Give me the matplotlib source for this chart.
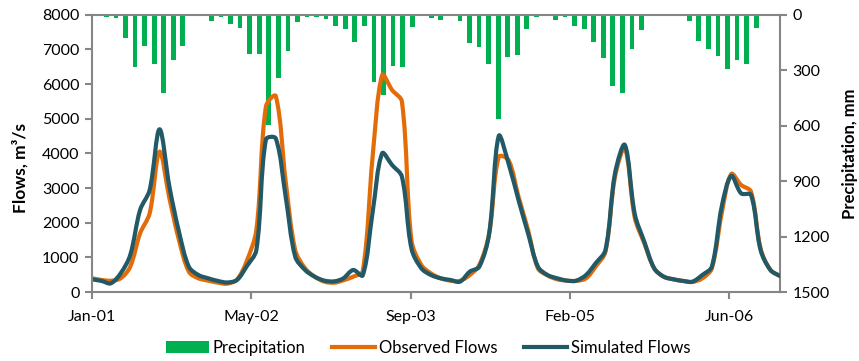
import numpy as np
import pandas as pd
import matplotlib
matplotlib.use("Agg")
import matplotlib.pyplot as plt
import matplotlib.dates as mdates
from matplotlib.patches import Patch, PathPatch
from matplotlib.path import Path
from matplotlib.lines import Line2D

plt.rcParams['font.family'] = ['Lato', 'DejaVu Sans']

# monthly series, Jan 2001 - Dec 2006
months = pd.date_range('2001-01-01', periods=72, freq='MS')

precip = [4, 13, 16, 128, 285, 170, 269, 421, 244, 168, 7, 2,
          33, 11, 51, 72, 211, 211, 596, 342, 197, 38, 11, 11,
          22, 61, 76, 145, 61, 365, 437, 278, 282, 65, 0, 20,
          29, 9, 36, 155, 177, 264, 562, 231, 217, 78, 11, 0,
          29, 11, 60, 76, 150, 235, 387, 421, 184, 83, 0, 0,
          0, 2, 33, 141, 183, 222, 293, 246, 266, 70, 7, 9]

observed = [395, 346, 326, 395, 730, 1693, 2270, 4048, 2703, 1500, 586, 395,
            326, 269, 240, 358, 875, 1789, 5350, 5650, 3200, 1212, 683, 442,
            298, 269, 337, 442, 600, 3900, 6260, 5828, 5491, 1490, 779, 538,
            394, 327, 320, 490, 779, 1692, 3900, 3800, 2750, 1789, 683, 480,
            365, 327, 320, 394, 731, 1164, 3327, 4145, 2150, 1404, 683, 442,
            365, 317, 290, 394, 683, 2270, 3404, 3087, 2894, 1260, 635, 462]

simulated = [366, 317, 250, 539, 1067, 2366, 2943, 4694, 3039, 1740, 730, 490,
             395, 317, 275, 346, 731, 1212, 4400, 4430, 2750, 1019, 635, 442,
             327, 308, 394, 635, 480, 2300, 4001, 3664, 3327, 1250, 683, 490,
             394, 346, 298, 587, 731, 1692, 4500, 3700, 2654, 1692, 731, 490,
             394, 327, 327, 490, 827, 1212, 3424, 4241, 2250, 1452, 683, 442,
             365, 317, 298, 490, 731, 2462, 3347, 2846, 2798, 1212, 635, 462]

GREEN = '#00B050'
ORANGE = '#E36C09'
TEAL = '#215967'
GREY = '#868686'


# smoothed line like the spreadsheet one: cubic bezier through every point,
# control arms worked out in screen space and scaled by segment length
def smooth_path(ax, x, y):
    p = ax.transData.transform(np.column_stack([x, y]))
    n = len(p)
    d = np.hypot(*np.diff(p, axis=0).T)
    verts = [p[0]]
    codes = [Path.MOVETO]
    for i in range(n - 1):
        a = p[max(i - 1, 0)]
        b = p[min(i + 2, n - 1)]
        dl = d[i - 1] if i > 0 else d[i]
        dr = d[i + 1] if i < n - 2 else d[i]
        c1 = p[i] + (p[i + 1] - a) * d[i] / (dl + d[i]) / 3
        c2 = p[i + 1] - (b - p[i]) * d[i] / (d[i] + dr) / 3
        verts += [c1, c2, p[i + 1]]
        codes += [Path.CURVE4] * 3
    verts = ax.transData.inverted().transform(np.array(verts))
    return Path(verts, codes)


fig = plt.figure(figsize=(8.59, 3.61), dpi=100)
rect = [92/859, 1 - 292/361, (780 - 92)/859, (292 - 14.7)/361]

# precipitation bars, hanging from the top (inverted secondary axis)
axp = fig.add_axes(rect)
axp.bar(np.arange(len(precip)), precip, width=0.5, color=GREEN)
axp.set_xlim(-0.5, len(precip) - 0.5)
axp.set_ylim(1500, 0)
axp.set_yticks([0, 300, 600, 900, 1200, 1500])
axp.yaxis.tick_right()
axp.yaxis.set_label_position('right')
axp.set_ylabel('Precipitation, mm', fontsize=12, fontweight='bold', labelpad=9)
axp.set_xticks([])
for s in ['left', 'bottom', 'top']:
    axp.spines[s].set_visible(False)
axp.spines['right'].set_color(GREY)
axp.spines['right'].set_linewidth(1.5)
axp.tick_params(axis='y', colors=GREY, labelcolor='black', labelsize=11.5,
                length=5, width=1.5, pad=4)

# flows on top
ax = fig.add_axes(rect)
ax.patch.set_visible(False)
ax.set_ylim(0, 8000)
ax.set_yticks(range(0, 8001, 1000))
ax.set_xlim(months[0], months[-1])
xnum = mdates.date2num(months)
for series, col in [(observed, ORANGE), (simulated, TEAL)]:
    ax.add_patch(PathPatch(smooth_path(ax, xnum, series), facecolor='none',
                           edgecolor=col, lw=3, joinstyle='round', capstyle='round'))
ticks = [months[0] + pd.Timedelta(days=500 * k) for k in range(5)]
ax.set_xticks(ticks)
ax.xaxis.set_major_formatter(mdates.DateFormatter('%b-%y'))
ax.set_ylabel('Flows, m³/s', fontsize=12.5, fontweight='bold')
ax.yaxis.set_label_coords(-0.093, 0.447)
ax.spines['right'].set_visible(False)
for s in ['left', 'bottom', 'top']:
    ax.spines[s].set_color(GREY)
    ax.spines[s].set_linewidth(1.5)
ax.tick_params(axis='both', colors=GREY, labelcolor='black', labelsize=11.5,
               length=5, width=1.5)
ax.tick_params(axis='x', pad=8)
ax.tick_params(axis='y', pad=4)

handles = [Patch(facecolor=GREEN),
           Line2D([], [], color=ORANGE, lw=3),
           Line2D([], [], color=TEAL, lw=3)]
fig.legend(handles, ['Precipitation', 'Observed Flows', 'Simulated Flows'],
           loc='center', bbox_to_anchor=(428/859, 1 - 348/361), ncol=3,
           frameon=False, fontsize=12, handlelength=2.6, handletextpad=0.2,
           columnspacing=1.6)

fig.savefig('out.png', dpi=100)
